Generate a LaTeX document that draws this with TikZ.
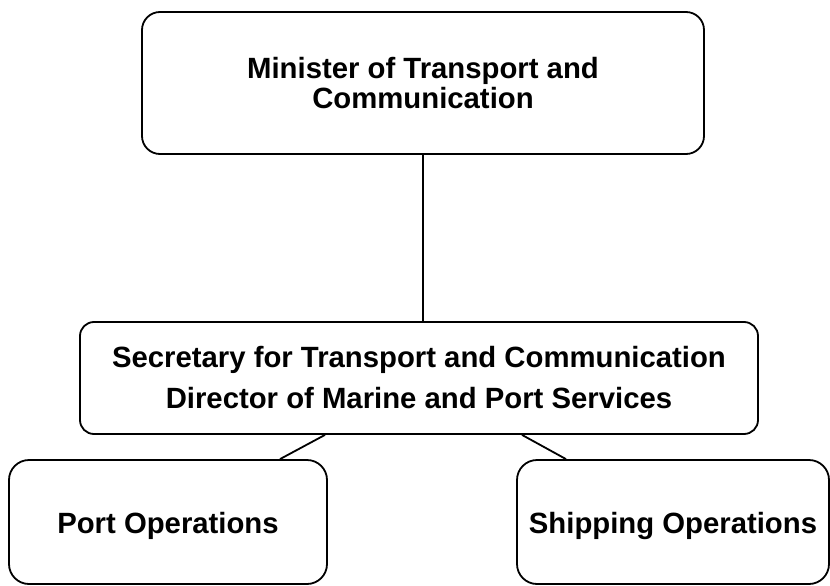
\documentclass[tikz,border=0pt]{standalone}
\usepackage{fontspec}
\setmainfont{Liberation Sans}
\begin{document}
\begin{tikzpicture}[x=1pt,y=-1pt,
  orgbox/.style={draw=black,line width=1.8pt,rectangle,inner sep=0pt,
    align=center,font=\fontsize{29.3}{30}\selectfont\bfseries},
  link/.style={draw=black,line width=1.8pt}]
  \useasboundingbox (0,0) rectangle (830,586);
  % boxes of the organisation chart
  \node[orgbox,rounded corners=18pt,minimum width=562pt,minimum height=142pt,
    font=\fontsize{29.3}{30}\selectfont\bfseries]
    (minister) at (423,83) {Minister of Transport and\\Communication};
  \node[orgbox,rounded corners=14pt,minimum width=678pt,minimum height=112pt,
    font=\fontsize{29.3}{41}\selectfont\bfseries]
    (secretary) at (419,378) {Secretary for Transport and Communication\\Director of Marine and Port Services};
  % the tall strut sets the single-line labels slightly below centre
  \node[orgbox,rounded corners=20pt,minimum width=318pt,minimum height=124pt]
    (port) at (168,522) {\rule{0pt}{30pt}Port Operations};
  \node[orgbox,rounded corners=20pt,minimum width=312pt,minimum height=124pt]
    (shipping) at (673,522) {\rule{0pt}{30pt}Shipping Operations};
  % reporting lines
  \draw[link] (minister.south) -- (minister.south |- secretary.north);
  \draw[link] ([xshift=-94pt]secretary.south) -- ([xshift=112pt]port.north);
  \draw[link] ([xshift=103pt]secretary.south) -- ([xshift=-107pt]shipping.north);
\end{tikzpicture}
\end{document}
